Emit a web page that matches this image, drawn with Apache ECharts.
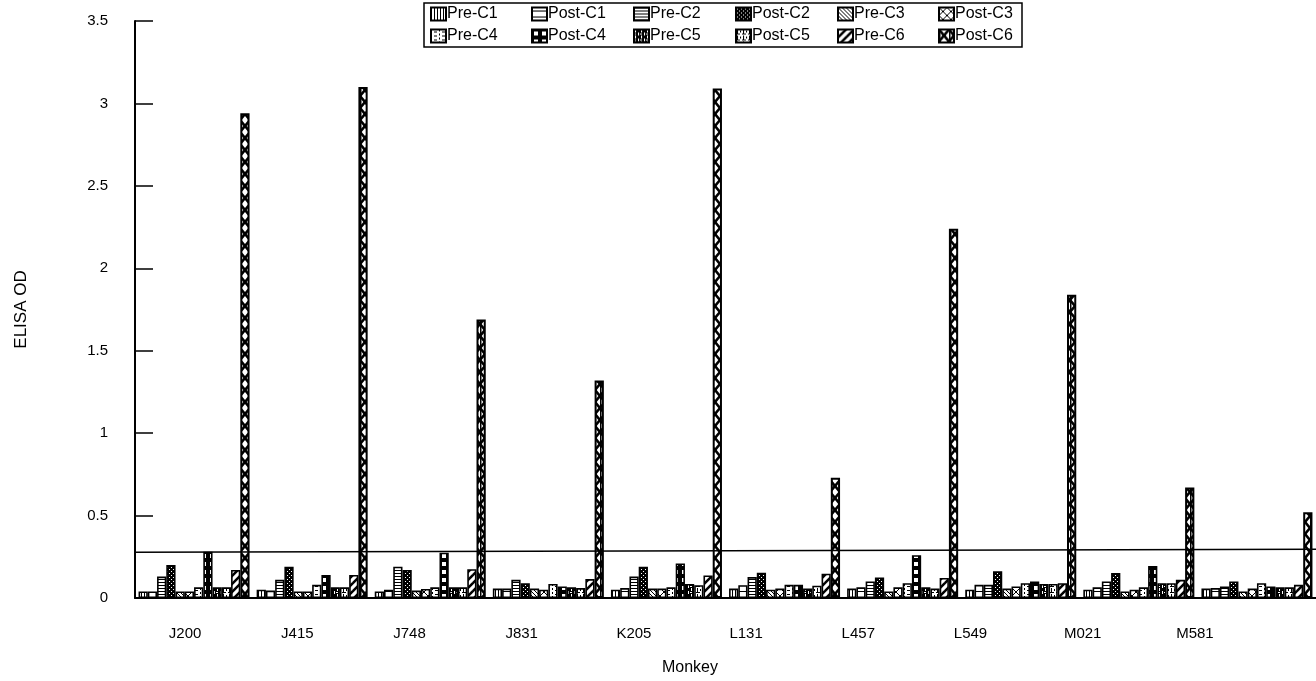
<!DOCTYPE html>
<html><head><meta charset="utf-8">
<script src="https://cdn.jsdelivr.net/npm/echarts@6/dist/echarts.min.js"></script>
<style>html,body{margin:0;padding:0;background:#fff}#c{width:1316px;height:681px}</style>
</head><body><div id="c"></div>
<script>
const categories = ['J200','J415','J748','J831','K205','L131','L457','L549','M021','M581'];
const seriesNames = ['Pre-C1','Post-C1','Pre-C2','Post-C2','Pre-C3','Post-C3','Pre-C4','Post-C4','Pre-C5','Post-C5','Pre-C6','Post-C6'];
const preC1  = [0.04, 0.05, 0.04, 0.057, 0.05, 0.057, 0.057, 0.05, 0.05, 0.057];
const postC1 = [0.04, 0.045, 0.05, 0.057, 0.06, 0.078, 0.065, 0.08, 0.065, 0.06];
const preC2  = [0.13, 0.11, 0.19, 0.11, 0.13, 0.127, 0.10, 0.08, 0.10, 0.07];
const postC2 = [0.20, 0.19, 0.17, 0.09, 0.19, 0.153, 0.125, 0.163, 0.152, 0.10];
const preC3  = [0.04, 0.04, 0.045, 0.057, 0.057, 0.05, 0.04, 0.057, 0.04, 0.04];
const postC3 = [0.04, 0.04, 0.055, 0.05, 0.057, 0.057, 0.065, 0.07, 0.05, 0.057];
const preC4  = [0.065, 0.08, 0.065, 0.085, 0.065, 0.08, 0.09, 0.09, 0.065, 0.09];
const postC4 = [0.28, 0.14, 0.275, 0.07, 0.21, 0.08, 0.26, 0.10, 0.194, 0.07];
const preC5  = [0.065, 0.065, 0.065, 0.065, 0.085, 0.057, 0.065, 0.085, 0.09, 0.065];
const postC5 = [0.065, 0.065, 0.065, 0.06, 0.078, 0.075, 0.057, 0.085, 0.09, 0.065];
const preC6  = [0.17, 0.14, 0.175, 0.115, 0.137, 0.147, 0.122, 0.09, 0.11, 0.08];
const postC6 = [2.94, 3.10, 1.69, 1.32, 3.09, 0.73, 2.24, 1.84, 0.67, 0.52];
const cutoffLine = [[0, 0.278], [1, 0.295]];
const yTicks = { min: 0, max: 3.5, interval: 0.5 };
const seriesValues = [preC1, postC1, preC2, postC2, preC3, postC3, preC4, postC4, preC5, postC5, preC6, postC6];

function pat(w, h, bg, draw) {
  const c = document.createElement('canvas');
  c.width = w; c.height = h;
  const g = c.getContext('2d');
  g.fillStyle = bg; g.fillRect(0, 0, w, h);
  g.fillStyle = '#000'; g.strokeStyle = '#000';
  draw(g, w, h);
  return { image: c, repeat: 'repeat' };
}
function line(g, x1, y1, x2, y2, lw) { g.lineWidth = lw; g.beginPath(); g.moveTo(x1, y1); g.lineTo(x2, y2); g.stroke(); }

const patterns = [
  pat(3, 3, '#fff', (g) => { g.fillRect(0, 0, 1, 3); }),
  pat(4, 6, '#fff', (g) => { g.fillRect(0, 3, 4, 1); }),
  pat(4, 3, '#fff', (g) => { g.fillRect(0, 0, 4, 1); }),
  pat(4, 4, '#000', (g) => { g.fillStyle = '#fff'; g.fillRect(1, 1, 1, 1); g.fillRect(3, 3, 1, 1); }),
  pat(4, 4, '#fff', (g) => { line(g, -1, -1, 5, 5, 1); line(g, -1, 3, 1, 5, 1); line(g, 3, -1, 5, 1, 1); }),
  pat(8, 8, '#fff', (g) => { line(g, 0, 0, 8, 8, 1); line(g, 8, 0, 0, 8, 1); }),
  pat(8, 8, '#fff', (g) => { g.fillRect(0, 0, 1, 2); g.fillRect(0, 4, 1, 2); g.fillRect(3, 2, 3, 1); g.fillRect(3, 6, 3, 1); }),
  pat(8, 8, '#000', (g) => { g.fillStyle = '#fff'; g.fillRect(2, 2, 4, 4); }),
  pat(6, 6, '#000', (g) => { g.fillStyle = '#fff'; g.fillRect(1, 0, 1, 3); g.fillRect(4, 3, 1, 3); g.fillRect(0, 4, 2, 1); }),
  pat(6, 6, '#fff', (g) => { g.fillRect(1, 0, 1, 4); g.fillRect(0, 4, 4, 1); g.fillRect(4, 1, 1, 2); }),
  pat(8, 8, '#fff', (g) => { line(g, -2, 10, 10, -2, 2.5); line(g, -2, 2, 2, -2, 2.5); line(g, 6, 10, 10, 6, 2.5); }),
  pat(10, 12, '#fff', (g) => { line(g, 0, 0, 10, 12, 2.6); line(g, 10, 0, 0, 12, 2.6); g.fillRect(0, 0, 1.5, 12); })
];

const FONT = "'Liberation Sans', Arial, Helvetica, sans-serif";
const legendCols = [430, 531, 633, 735, 837, 938];
const legends = legendCols.map((x, i) => ({
  orient: 'vertical', left: x, top: 6, itemGap: 6, itemWidth: 15, itemHeight: 13,
  icon: 'rect', padding: 0, selectedMode: false,
  textStyle: { fontFamily: FONT, fontSize: 16, lineHeight: 16, color: '#000', padding: [0, 0, 0, -4] },
  data: [seriesNames[i], seriesNames[i + 6]]
}));

const series = seriesNames.map((n, i) => ({
  name: n, type: 'bar', xAxisIndex: 0, yAxisIndex: 0,
  data: seriesValues[i], barGap: '0%', barCategoryGap: '6%',
  itemStyle: { color: patterns[i], borderColor: '#000', borderWidth: i === 11 ? 2 : 1.6 },
  emphasis: { disabled: true }, animation: false
}));
series.push({
  type: 'line', xAxisIndex: 1, yAxisIndex: 0, data: cutoffLine, showSymbol: false,
  lineStyle: { color: '#000', width: 1.5 }, animation: false, silent: true
});

const chart = echarts.init(document.getElementById('c'));
chart.setOption({
  animation: false,
  backgroundColor: '#fff',
  legend: legends,
  graphic: [{ type: 'rect', shape: { x: 424, y: 3, width: 598, height: 44 }, style: { fill: 'none', stroke: '#000', lineWidth: 1.5 } }],
  grid: [
    { left: 135, top: 21, width: 1190, height: 577 },
    { left: 129, top: 21, width: 1122, height: 577 }
  ],
  xAxis: [
    { type: 'category', gridIndex: 0, data: categories, axisLine: { lineStyle: { color: '#000', width: 2 } }, axisTick: { show: false }, axisLabel: { show: false } },
    { type: 'value', gridIndex: 0, min: 0, max: 1, position: 'top', show: false },
    { type: 'category', gridIndex: 1, data: categories, axisLine: { show: false }, axisTick: { show: false },
      axisLabel: { fontFamily: FONT, fontSize: 15, color: '#000', margin: 34 },
      name: 'Monkey', nameLocation: 'middle', nameGap: 68, nameTextStyle: { fontFamily: FONT, fontSize: 16, color: '#000' } }
  ],
  yAxis: [
    { type: 'value', gridIndex: 0, min: yTicks.min, max: yTicks.max, interval: yTicks.interval,
      axisLine: { show: true, lineStyle: { color: '#000', width: 2 } },
      axisTick: { show: true, inside: true, length: 18, lineStyle: { color: '#000', width: 1.5 } },
      splitLine: { show: false },
      axisLabel: { fontFamily: FONT, fontSize: 15, color: '#000', margin: 27 },
      name: 'ELISA OD', nameLocation: 'middle', nameGap: 105, nameRotate: 90,
      nameTextStyle: { fontFamily: FONT, fontSize: 17, color: '#000' } },
    { type: 'value', gridIndex: 1, min: 0, max: 3.5, show: false }
  ],
  series: series
});
</script></body></html>
